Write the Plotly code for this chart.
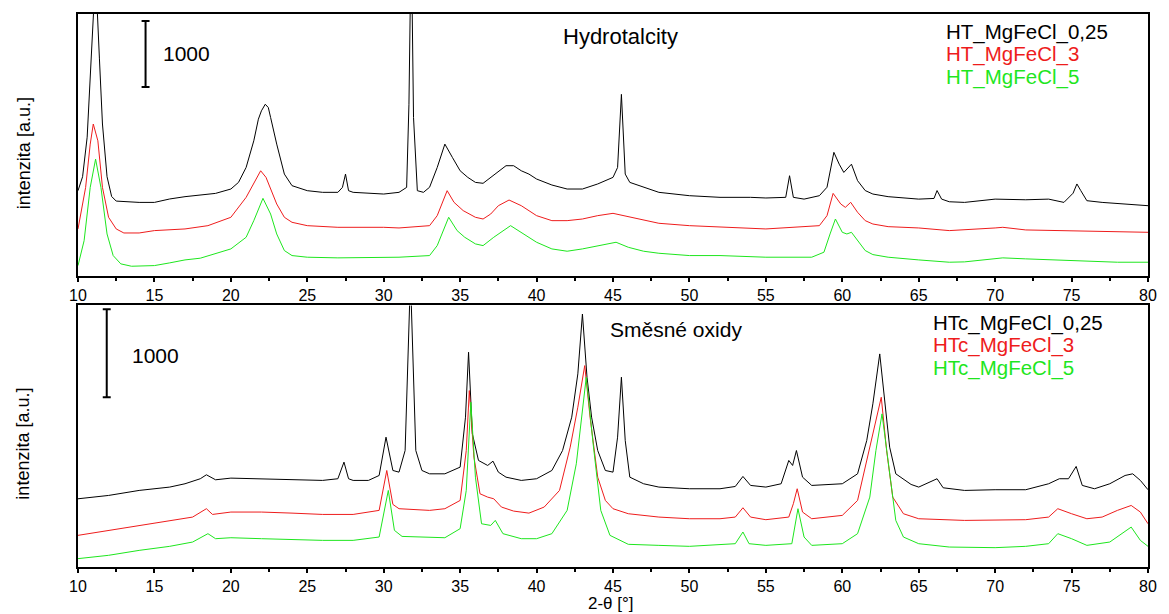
import plotly.graph_objects as go

# ---------------- data (2-theta in degrees, intensity in counts, stacked as drawn) ----------------
# Top panel: Hydrotalcity
ht025_x = [10.0, 10.3, 10.6, 10.9, 11.15, 11.4, 11.6, 11.9, 12.2, 12.5, 13, 14, 15, 16, 17, 18, 19, 20, 20.5, 21,
           21.5, 21.8, 22.0, 22.25, 22.45, 22.6, 23.0, 23.5, 24, 25, 26, 27, 27.3, 27.5, 27.7, 28, 29, 30, 31, 31.5, 31.65, 31.8,
           31.95, 32.2, 32.6, 33.0, 33.5, 34.0, 34.5, 35, 35.5, 36, 36.5, 37, 37.5, 38, 38.5, 39, 39.5, 40, 41, 42,
           43, 44, 45, 45.3, 45.55, 45.8, 46.1, 47, 48, 50, 52, 54, 55, 56.3, 56.55, 56.8, 57.5, 58.5, 59, 59.45,
           59.8, 60.1, 60.6, 61, 61.5, 62, 63, 65, 66.0, 66.2, 66.5, 67, 68, 70, 72, 73.5, 74.5, 75.1, 75.35, 75.6,
           76, 77, 80]
ht025_y = [1288, 1500, 2100, 3300, 4600, 3300, 2300, 1500, 1200, 1130, 1120, 1110, 1110, 1162, 1197, 1227, 1247, 1313, 1414, 1641,
           2045, 2373, 2500, 2600, 2550, 2400, 1995, 1540, 1364, 1288, 1263, 1263, 1338, 1540, 1288, 1263, 1247, 1237, 1263, 1338, 2600, 5200,
           2400, 1288, 1263, 1340, 1640, 1995, 1790, 1590, 1490, 1414, 1400, 1490, 1590, 1667, 1667, 1590, 1540, 1465, 1374, 1313,
           1313, 1390, 1490, 1640, 2750, 1540, 1414, 1340, 1263, 1212, 1187, 1187, 1177, 1187, 1515, 1187, 1160, 1212, 1340, 1870,
           1690, 1565, 1690, 1440, 1290, 1237, 1197, 1160, 1170, 1290, 1160, 1120, 1110, 1160, 1150, 1160, 1110, 1250, 1390, 1290,
           1136, 1110, 1060]

ht3_x = [10, 10.5, 10.8, 11.0, 11.3, 11.6, 12.0, 12.5, 13, 14, 15, 17, 18.5, 20, 21, 21.5, 21.95, 22.3, 23, 23.5,
         24, 25, 27, 30, 31, 33, 33.5, 34.15, 34.6, 35.2, 36, 36.5, 37, 37.5, 38.2, 39, 40, 41, 42, 43,
         44, 45, 46, 47, 48, 50, 55, 58.5, 59, 59.4, 59.9, 60.2, 60.55, 61, 61.5, 62, 63, 65, 67, 70,
         70.5, 72, 75, 80]
ht3_y = [707, 1338, 1995, 2300, 2045, 1338, 884, 707, 646, 646, 682, 707, 757, 884, 1187, 1390, 1590, 1490, 1086, 884,
         808, 757, 732, 732, 722, 757, 909, 1288, 1111, 985, 884, 858, 934, 1060, 1146, 1060, 909, 833, 833, 858,
         909, 944, 894, 833, 793, 757, 707, 757, 909, 1247, 1086, 1035, 1111, 960, 833, 782, 742, 722, 682, 722,
         732, 692, 682, 656]

ht5_x = [10, 10.4, 10.8, 11.15, 11.5, 11.9, 12.3, 12.8, 13.5, 15, 16, 17, 18, 19, 20, 21, 21.5, 22.1, 22.6, 23.0,
         23.5, 24, 25, 27, 30, 31, 33, 33.5, 34.25, 34.8, 35.3, 36, 36.5, 37.2, 38.3, 39, 40, 41, 42, 43,
         44, 45.2, 46, 47, 48, 50, 52, 55, 58, 58.8, 59.2, 59.55, 60.0, 60.3, 60.6, 61, 61.5, 62, 63, 65,
         67, 68, 70, 70.5, 72, 75, 78, 80]
ht5_y = [151, 530, 1338, 1767, 1338, 631, 303, 177, 141, 151, 192, 237, 263, 328, 404, 581, 833, 1172, 934, 631,
         379, 303, 278, 268, 278, 278, 303, 454, 884, 682, 581, 480, 454, 581, 757, 656, 505, 404, 369, 404,
         454, 505, 429, 369, 338, 303, 303, 278, 278, 354, 631, 858, 656, 631, 656, 530, 379, 318, 278, 237,
         202, 207, 253, 268, 253, 227, 202, 202]

# Bottom panel: Směsné oxidy
htc025_x = [10, 12, 14, 16, 17, 18, 18.4, 19, 20, 22, 24, 26, 27.0, 27.4, 27.7, 28, 29, 29.7, 30.15, 30.6,
            31, 31.4, 31.75, 32.1, 32.5, 33, 34, 35, 35.35, 35.55, 35.8, 36.2, 36.8, 37.15, 37.5, 38, 39, 40, 41, 41.7,
            42.3, 42.7, 43.0, 43.3, 43.6, 44, 44.5, 45, 45.3, 45.55, 45.8, 46.1, 47, 48, 50, 52, 53, 53.5, 54, 55,
            56.0, 56.5, 56.75, 57.0, 57.4, 58, 60, 61, 61.6, 62.0, 62.45, 62.8, 63.1, 63.5, 64.5, 65, 66.2, 66.6, 68, 70,
            72, 73.5, 74.2, 74.8, 75.3, 75.7, 76.5, 77.5, 78.5, 79, 79.5, 80]
htc025_y = [776, 814, 871, 909, 947, 1004, 1049, 992, 1011, 1004, 992, 985, 1004, 1193, 1004, 985, 985, 1041, 1477, 1098,
            1079, 1325, 3300, 1325, 1098, 1060, 1060, 1136, 1704, 2443, 1515, 1212, 1155, 1204, 1079, 1022, 985, 1004, 1098, 1325,
            1704, 2197, 2878, 2159, 1704, 1325, 1098, 1079, 1477, 2159, 1439, 1022, 947, 909, 890, 890, 916, 1030, 928, 909,
            947, 1212, 1155, 1325, 1022, 928, 947, 1060, 1439, 1856, 2424, 1818, 1363, 1060, 939, 909, 1004, 901, 871, 879,
            879, 947, 1004, 1004, 1144, 928, 890, 947, 1041, 1060, 985, 879]

htc3_x = [10, 12, 14, 16, 17.5, 18.4, 18.8, 20, 22, 24, 26, 28, 29.7, 30.2, 30.6, 31, 33, 34, 35, 35.4,
          35.6, 35.9, 36.3, 36.8, 37.2, 37.7, 38.5, 39.5, 40.5, 41.5, 42.2, 42.7, 43.15, 43.5, 44, 44.5, 45, 46, 48, 50,
          52, 53, 53.5, 54, 55, 56.5, 56.8, 57.05, 57.4, 58, 60, 61, 61.8, 62.2, 62.55, 62.9, 63.3, 64, 65, 68,
          70, 72, 73.5, 74.1, 75, 76, 77, 78, 78.9, 79.5, 80]
htc3_y = [360, 417, 473, 530, 568, 663, 598, 625, 625, 613, 598, 598, 644, 1098, 712, 663, 644, 663, 757, 1325,
          2007, 1250, 833, 795, 776, 682, 636, 613, 682, 871, 1363, 1818, 2291, 1704, 1022, 757, 663, 606, 568, 549,
          549, 568, 674, 568, 538, 568, 720, 890, 625, 549, 587, 757, 1363, 1628, 1931, 1325, 795, 606, 549, 530,
          530, 538, 568, 663, 606, 549, 568, 644, 700, 625, 492]

htc5_x = [10, 12, 14, 16, 17.5, 18.5, 19, 20, 22, 24, 26, 28, 29.7, 30.3, 30.7, 31.2, 33, 34, 35, 35.4,
          35.7, 36.0, 36.4, 37.0, 37.3, 37.8, 39, 40, 41, 42, 42.6, 43.25, 43.7, 44.2, 44.8, 46, 48, 50, 53, 53.5,
          53.9, 55, 56.7, 57.1, 57.5, 58, 60, 61, 61.8, 62.2, 62.6, 63.0, 63.5, 64, 65, 67, 70, 72, 73.5, 74.1,
          75, 76, 77.5, 78.9, 79.5, 80]
htc5_y = [95, 133, 189, 235, 284, 379, 322, 333, 322, 311, 303, 303, 341, 871, 417, 348, 341, 333, 436, 871,
          1875, 1022, 492, 473, 530, 379, 322, 322, 379, 644, 1174, 2159, 1401, 644, 360, 258, 246, 235, 265, 398,
          265, 246, 265, 663, 341, 246, 265, 379, 795, 1325, 1742, 1174, 530, 341, 265, 227, 220, 235, 265, 379,
          322, 246, 284, 454, 303, 235]

top_names = ["HT_MgFeCl_0,25", "HT_MgFeCl_3", "HT_MgFeCl_5"]
bottom_names = ["HTc_MgFeCl_0,25", "HTc_MgFeCl_3", "HTc_MgFeCl_5"]
panel_titles = ["Hydrotalcity", "Směsné oxidy"]
x_ticks = [10, 15, 20, 25, 30, 35, 40, 45, 50, 55, 60, 65, 70, 75, 80]
scale_bar_counts = 1000

# ---------------- styling ----------------
colors = ["#000000", "#ee1c1c", "#1ee61e"]
FONT = "Liberation Sans, Arial, sans-serif"
W, H = 1169, 614
ML, MR, MT, MB = 78, 13, 13, 47
plot_h = H - MT - MB
plot_w = W - ML - MR

def py2paper(py):
    return (H - MB - py) / plot_h

def px2paper(px):
    return (px - ML) / plot_w

top_dom = [py2paper(275), 1.0]
bot_dom = [0.0, py2paper(305)]
top_range = [0, 3970]
bot_range = [0, 2975]

fig = go.Figure()

top_series = [(ht025_x, ht025_y), (ht3_x, ht3_y), (ht5_x, ht5_y)]
bot_series = [(htc025_x, htc025_y), (htc3_x, htc3_y), (htc5_x, htc5_y)]

for (xs, ys), c, n in zip(top_series, colors, top_names):
    fig.add_trace(go.Scatter(x=xs, y=ys, mode="lines", name=n, line=dict(color=c, width=1),
                             xaxis="x", yaxis="y", showlegend=False))
for (xs, ys), c, n in zip(bot_series, colors, bottom_names):
    fig.add_trace(go.Scatter(x=xs, y=ys, mode="lines", name=n, line=dict(color=c, width=1),
                             xaxis="x2", yaxis="y2", showlegend=False))

axis_common = dict(range=[10, 80], tickvals=x_ticks, showgrid=False, zeroline=False,
                   showline=True, linecolor="black", linewidth=2, mirror=True,
                   ticks="outside", ticklen=4, tickwidth=1.5, tickcolor="black",
                   minor=dict(dtick=2.5, ticks="outside", ticklen=3, tickwidth=1.5, tickcolor="black"),
                   tickfont=dict(family=FONT, size=16, color="black"))
inner_common = dict(range=[10, 80], tickvals=x_ticks, showgrid=False, zeroline=False,
                    showline=False, showticklabels=False,
                    ticks="inside", ticklen=5, tickwidth=1.5, tickcolor="black",
                    minor=dict(dtick=2.5, ticks="inside", ticklen=4, tickwidth=1.5, tickcolor="black"))
y_common = dict(showgrid=False, zeroline=False, showticklabels=False, ticks="",
                showline=True, linecolor="black", linewidth=2, mirror=True)

fig.update_layout(
    width=W, height=H,
    margin=dict(l=ML, r=MR, t=MT, b=MB),
    paper_bgcolor="white", plot_bgcolor="white",
    showlegend=False,
    xaxis=dict(domain=[0, 1], anchor="y", **axis_common),
    yaxis=dict(domain=top_dom, anchor="x", range=top_range, **y_common),
    xaxis2=dict(domain=[0, 1], anchor="y2", **axis_common),
    yaxis2=dict(domain=bot_dom, anchor="x2", range=bot_range, **y_common),
    xaxis3=dict(anchor="y", overlaying="x", matches="x", **inner_common),
    xaxis4=dict(anchor="y2", overlaying="x2", matches="x2", **inner_common),
)

# scale bars (1000 counts)
def scale_bar(xref, yref, x, y_top, half_cap):
    y_bot = y_top - scale_bar_counts
    line = dict(color="black", width=2)
    fig.add_shape(type="line", xref=xref, yref=yref, x0=x, x1=x, y0=y_bot, y1=y_top, line=line)
    fig.add_shape(type="line", xref=xref, yref=yref, x0=x - half_cap, x1=x + half_cap, y0=y_top, y1=y_top, line=line)
    fig.add_shape(type="line", xref=xref, yref=yref, x0=x - half_cap, x1=x + half_cap, y0=y_bot, y1=y_bot, line=line)

scale_bar("x", "y", 14.42, 3863, 0.26)
scale_bar("x2", "y2", 11.88, 2931, 0.26)

def txt(text, px, py, size, color="black", xanchor="left", yanchor="middle", angle=0, pad=1):
    fig.add_annotation(text=text, xref="paper", yref="paper", x=px2paper(px), y=py2paper(py),
                       xanchor=xanchor, yanchor=yanchor, showarrow=False, textangle=angle,
                       borderpad=pad, font=dict(family=FONT, size=size, color=color))

txt(str(scale_bar_counts), 162, 53, 21)
txt(str(scale_bar_counts), 130, 355, 21)
txt(panel_titles[0], 625, 36, 22, xanchor="center")
txt(panel_titles[1], 612, 329, 21)
for i, (n, c) in enumerate(zip(top_names, colors)):
    txt(n, 950, [31, 53, 76][i], 20.5, color=c)
for i, (n, c) in enumerate(zip(bottom_names, colors)):
    txt(n, 937, [323, 345, 368][i], 20.5, color=c)
txt("intenzita [a.u.]", 23, 152, 18, xanchor="center", angle=-90)
txt("intenzita [a.u.]", 23, 443, 18, xanchor="center", angle=-90)
txt("2-θ [°]", 615, 614, 17, xanchor="center", yanchor="bottom", pad=0)

fig.write_html("out.html")
